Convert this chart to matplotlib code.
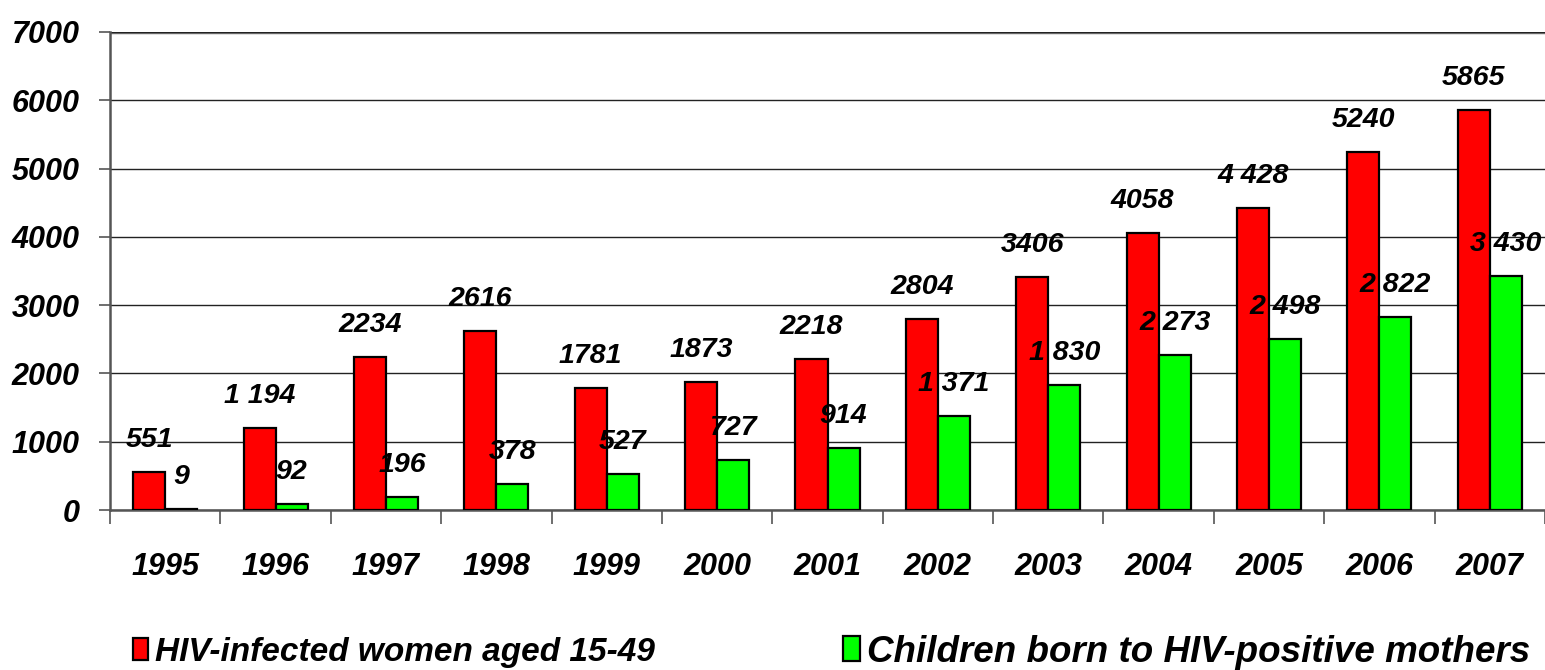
import numpy as np
import matplotlib.pyplot as plt
from matplotlib.patches import Patch

""" Data """

years = ["1995", "1996", "1997", "1998", "1999", "2000", "2001",
         "2002", "2003", "2004", "2005", "2006", "2007"]
women = [551, 1194, 2234, 2616, 1781, 1873, 2218, 2804, 3406, 4058, 4428, 5240, 5865]
children = [9, 92, 196, 378, 527, 727, 914, 1371, 1830, 2273, 2498, 2822, 3430]
women_labels = ["551", "1 194", "2234", "2616", "1781", "1873", "2218",
                "2804", "3406", "4058", "4 428", "5240", "5865"]
children_labels = ["9", "92", "196", "378", "527", "727", "914",
                   "1 371", "1 830", "2 273", "2 498", "2 822", "3 430"]
legend_names = ["HIV-infected women aged 15-49", "Children born to HIV-positive mothers"]

plt.rcParams["font.family"] = ["Liberation Sans", "DejaVu Sans"]
plt.rcParams["font.weight"] = "bold"
plt.rcParams["font.style"] = "italic"

fig = plt.figure(figsize=(15.45, 6.7), dpi=100)
ax = fig.add_axes([110 / 1545, 1 - 510 / 670, 1 - 110 / 1545, (510 - 32) / 670])

x = np.arange(len(years))
w = 0.29
ax.bar(x - w / 2, women, w, color="#ff0000", edgecolor="black", linewidth=1.6, zorder=3)
ax.bar(x + w / 2, children, w, color="#00ff00", edgecolor="black", linewidth=1.6, zorder=3)

# value labels above the bars
for xi, v, s in zip(x, women, women_labels):
    ax.annotate(s, (xi - w / 2, v), xytext=(0, 18), textcoords="offset points",
                ha="center", va="baseline", fontsize=20.5)
for xi, v, s in zip(x, children, children_labels):
    ax.annotate(s, (xi + w / 2, v), xytext=(0, 18), textcoords="offset points",
                ha="center", va="baseline", fontsize=20.5)

ax.set_xlim(-0.5, len(years) - 0.5)
ax.set_ylim(0, 7000)
ax.set_yticks(np.arange(0, 7001, 1000))
ax.yaxis.grid(True, color="#222222", linewidth=1, zorder=0)
ax.tick_params(axis="y", length=8, width=1.2, color="#555555", pad=14, labelsize=22)

ax.set_xticks(x)
ax.set_xticklabels(years)
ax.tick_params(axis="x", which="major", length=0, pad=30, labelsize=22)
ax.set_xticks(np.arange(-0.5, len(years), 1), minor=True)
ax.tick_params(axis="x", which="minor", length=10, width=1.2, color="#555555")

for side in ["top", "right"]:
    ax.spines[side].set_visible(False)
ax.spines["left"].set_color("#555555")
ax.spines["left"].set_linewidth(1.8)
ax.spines["bottom"].set_color("#555555")
ax.spines["bottom"].set_linewidth(1.8)
ax.axhline(7000, color="#777777", linewidth=2.5, zorder=1)

h1 = Patch(facecolor="#ff0000", edgecolor="black", linewidth=1.6)
h2 = Patch(facecolor="#00ff00", edgecolor="black", linewidth=1.6)
for h, name, xl, fs in [(h1, legend_names[0], 133, 24), (h2, legend_names[1], 843, 26.5)]:
    fig.legend(handles=[h], labels=[name], loc="center left",
               bbox_to_anchor=(xl / 1545, 1 - 652 / 670), frameon=False,
               prop={"size": fs, "weight": "bold", "style": "italic"},
               handlelength=0.45, handleheight=0.65, handletextpad=0.2,
               borderaxespad=0, borderpad=0)

fig.savefig("out.png", dpi=100)
